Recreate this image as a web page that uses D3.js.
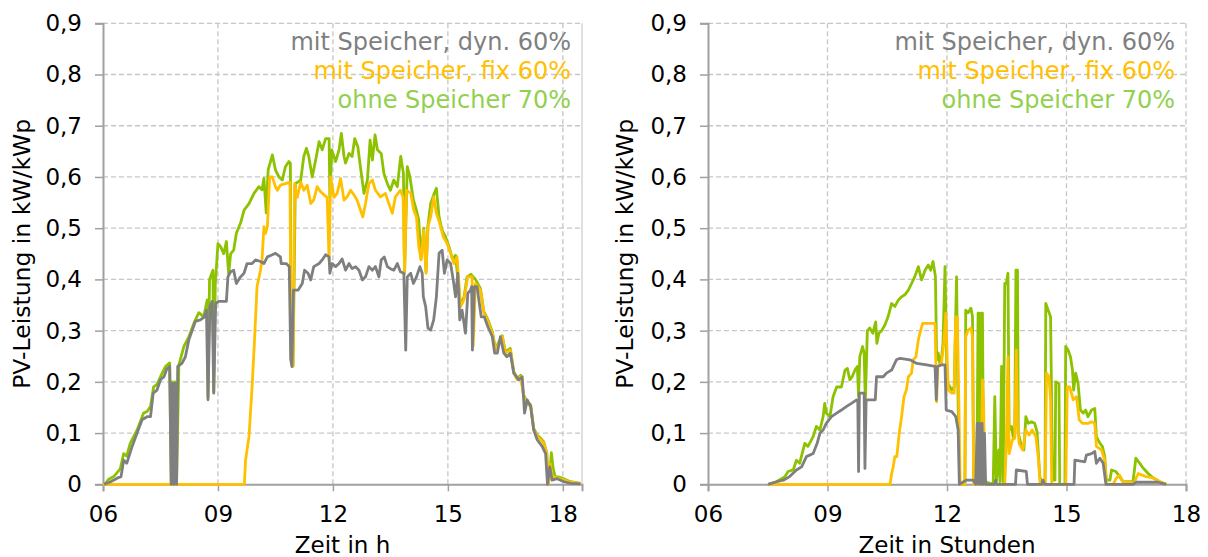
<!DOCTYPE html>
<html><head><meta charset="utf-8">
<script src="https://cdn.jsdelivr.net/npm/d3@7"></script>
<style>body{margin:0;background:#fff}svg{display:block}text{font-family:"DejaVu Sans",Verdana,sans-serif}</style>
</head><body>
<svg id="c" width="1208" height="557"></svg>
<script>
// ---------- data ----------
const xTicks = [6, 9, 12, 15, 18];
const yTicks = [0, 0.1, 0.2, 0.3, 0.4, 0.5, 0.6, 0.7, 0.8, 0.9];
const seriesNames = ["mit Speicher, dyn. 60%", "mit Speicher, fix 60%", "ohne Speicher 70%"];
const axisTitlesX = ["Zeit in h", "Zeit in Stunden"];
const axisTitleY = "PV-Leistung in kW/kWp";

const leftGrey = [[6.03,0],[6.2,0.005],[6.37,0.012],[6.47,0.015],[6.54,0.047],[6.62,0.041],[6.76,0.074],[6.89,0.1],[7.02,0.126],[7.15,0.132],[7.24,0.132],[7.31,0.178],[7.41,0.184],[7.5,0.204],[7.59,0.21],[7.67,0.226],[7.74,0.23],[7.78,0],[7.81,0.197],[7.85,0],[7.88,0.197],[7.92,0],[7.95,0.23],[8.06,0.236],[8.15,0.249],[8.24,0.282],[8.33,0.301],[8.41,0.318],[8.54,0.321],[8.65,0.327],[8.7,0.34],[8.74,0.165],[8.79,0.347],[8.85,0.357],[8.89,0.178],[8.94,0.353],[9.02,0.357],[9.15,0.357],[9.22,0.357],[9.26,0.405],[9.33,0.415],[9.41,0.418],[9.48,0.392],[9.59,0.405],[9.68,0.412],[9.76,0.431],[9.89,0.431],[9.98,0.438],[10.11,0.435],[10.2,0.431],[10.29,0.444],[10.42,0.448],[10.5,0.451],[10.63,0.444],[10.65,0.431],[10.78,0.431],[10.86,0.425],[10.9,0.243],[10.93,0.23],[10.97,0.379],[11.09,0.379],[11.2,0.392],[11.26,0.418],[11.35,0.412],[11.42,0.399],[11.5,0.425],[11.64,0.431],[11.72,0.438],[11.81,0.448],[11.9,0.444],[11.92,0.412],[11.98,0.431],[12.07,0.425],[12.16,0.431],[12.24,0.44],[12.33,0.418],[12.42,0.431],[12.5,0.421],[12.59,0.425],[12.68,0.418],[12.77,0.399],[12.85,0.405],[12.94,0.425],[13.03,0.418],[13.11,0.425],[13.2,0.405],[13.26,0.438],[13.34,0.444],[13.42,0.425],[13.5,0.421],[13.59,0.418],[13.68,0.431],[13.76,0.415],[13.85,0.412],[13.9,0.262],[13.94,0.405],[14.03,0.412],[14.1,0.392],[14.18,0.405],[14.27,0.425],[14.33,0.412],[14.36,0.366],[14.42,0.347],[14.48,0.305],[14.55,0.301],[14.63,0.321],[14.7,0.366],[14.77,0.451],[14.85,0.457],[14.91,0.412],[14.98,0.438],[15.07,0.431],[15.14,0.399],[15.2,0.366],[15.26,0.412],[15.31,0.321],[15.37,0.34],[15.46,0.295],[15.52,0.373],[15.59,0.379],[15.62,0.386],[15.64,0.262],[15.69,0.386],[15.76,0.386],[15.87,0.327],[15.95,0.327],[16.04,0.308],[16.16,0.288],[16.22,0.256],[16.29,0.256],[16.37,0.288],[16.46,0.256],[16.54,0.249],[16.63,0.256],[16.72,0.217],[16.85,0.204],[16.94,0.21],[17.0,0.139],[17.07,0.165],[17.16,0.152],[17.24,0.106],[17.33,0.087],[17.46,0.074],[17.55,0.06],[17.6,0],[17.66,0.034],[17.72,0.008],[17.85,0.011],[18.03,0.005],[18.2,0.002],[18.46,0.001]];

const leftOrange = [[6.0,0],[9.69,0],[9.72,0.047],[9.81,0.093],[9.89,0.19],[9.95,0.275],[10.02,0.386],[10.11,0.418],[10.15,0.438],[10.2,0.503],[10.24,0.49],[10.29,0.503],[10.35,0.6],[10.42,0.6],[10.5,0.581],[10.55,0.574],[10.63,0.584],[10.76,0.587],[10.88,0.59],[10.91,0.243],[10.96,0.23],[11.0,0.587],[11.07,0.56],[11.16,0.59],[11.24,0.574],[11.33,0.584],[11.42,0.548],[11.5,0.555],[11.59,0.581],[11.68,0.571],[11.77,0.565],[11.85,0.56],[11.9,0.438],[11.94,0.6],[12.03,0.56],[12.11,0.568],[12.2,0.597],[12.29,0.555],[12.37,0.561],[12.46,0.574],[12.55,0.565],[12.63,0.555],[12.72,0.535],[12.78,0.522],[12.85,0.548],[12.94,0.587],[13.03,0.594],[13.11,0.574],[13.24,0.561],[13.37,0.568],[13.46,0.548],[13.55,0.529],[13.63,0.561],[13.76,0.574],[13.83,0.561],[13.87,0.412],[13.92,0.574],[14.03,0.568],[14.11,0.535],[14.18,0.522],[14.24,0.464],[14.3,0.438],[14.37,0.496],[14.43,0.412],[14.48,0.503],[14.55,0.522],[14.63,0.561],[14.7,0.529],[14.79,0.509],[14.88,0.483],[14.98,0.47],[15.07,0.451],[15.16,0.431],[15.24,0.444],[15.33,0.347],[15.42,0.36],[15.52,0.405],[15.63,0.405],[15.66,0.27],[15.72,0.392],[15.85,0.379],[15.94,0.334],[16.03,0.321],[16.16,0.295],[16.24,0.262],[16.33,0.275],[16.42,0.288],[16.5,0.256],[16.63,0.262],[16.72,0.217],[16.81,0.204],[16.9,0.21],[16.98,0.171],[17.07,0.158],[17.16,0.152],[17.24,0.106],[17.33,0.093],[17.42,0.087],[17.5,0.08],[17.58,0.06],[17.62,0],[17.67,0.04],[17.72,0.015],[17.85,0.012],[18.03,0.008],[18.2,0.004],[18.46,0.002]];

const leftGreen = [[6.05,0],[6.15,0.01],[6.28,0.015],[6.45,0.03],[6.54,0.06],[6.62,0.055],[6.71,0.08],[6.89,0.106],[7.06,0.139],[7.15,0.142],[7.24,0.152],[7.32,0.19],[7.41,0.195],[7.5,0.21],[7.63,0.23],[7.74,0.237],[7.78,0],[7.81,0.2],[7.85,0],[7.88,0.2],[7.92,0],[7.98,0.233],[8.11,0.269],[8.24,0.288],[8.37,0.314],[8.5,0.335],[8.63,0.327],[8.72,0.36],[8.74,0.17],[8.78,0.4],[8.87,0.418],[8.89,0.18],[8.93,0.39],[9.0,0.47],[9.07,0.464],[9.15,0.45],[9.22,0.474],[9.28,0.41],[9.33,0.45],[9.41,0.457],[9.48,0.49],[9.59,0.51],[9.68,0.535],[9.81,0.548],[9.94,0.568],[10.07,0.581],[10.15,0.575],[10.2,0.597],[10.26,0.53],[10.31,0.614],[10.42,0.643],[10.5,0.614],[10.59,0.6],[10.68,0.594],[10.76,0.62],[10.85,0.63],[10.89,0.627],[10.91,0.245],[10.96,0.232],[11.02,0.587],[11.16,0.594],[11.24,0.64],[11.31,0.656],[11.37,0.64],[11.46,0.6],[11.55,0.633],[11.64,0.669],[11.72,0.653],[11.81,0.675],[11.9,0.675],[11.92,0.56],[11.97,0.653],[12.07,0.63],[12.16,0.653],[12.22,0.685],[12.29,0.64],[12.33,0.627],[12.42,0.646],[12.5,0.64],[12.57,0.675],[12.65,0.659],[12.74,0.607],[12.81,0.568],[12.9,0.594],[12.97,0.672],[13.03,0.633],[13.1,0.682],[13.16,0.653],[13.26,0.646],[13.33,0.607],[13.42,0.587],[13.5,0.574],[13.59,0.594],[13.68,0.581],[13.77,0.64],[13.84,0.607],[13.87,0.412],[13.94,0.62],[14.01,0.6],[14.1,0.555],[14.18,0.535],[14.24,0.516],[14.3,0.44],[14.37,0.5],[14.43,0.415],[14.48,0.505],[14.55,0.548],[14.63,0.565],[14.7,0.578],[14.77,0.522],[14.85,0.496],[14.94,0.483],[15.03,0.464],[15.12,0.44],[15.2,0.447],[15.33,0.35],[15.42,0.365],[15.5,0.405],[15.6,0.41],[15.72,0.4],[15.85,0.382],[15.94,0.337],[16.03,0.324],[16.16,0.298],[16.24,0.265],[16.33,0.278],[16.42,0.29],[16.5,0.259],[16.63,0.265],[16.72,0.22],[16.81,0.207],[16.9,0.213],[16.98,0.174],[17.07,0.161],[17.16,0.155],[17.24,0.109],[17.33,0.096],[17.42,0.09],[17.5,0.083],[17.58,0.062],[17.62,0],[17.66,0.02],[17.7,0.062],[17.75,0.03],[17.8,0.015],[17.9,0.014],[18.05,0.01],[18.2,0.005],[18.46,0.002]];

const rightGrey = [[7.51,0],[7.72,0.005],[7.89,0.008],[8.05,0.015],[8.22,0.028],[8.35,0.034],[8.47,0.054],[8.64,0.06],[8.74,0.08],[8.81,0.1],[8.89,0.106],[8.97,0.119],[9.1,0.132],[9.23,0.139],[9.35,0.145],[9.48,0.152],[9.6,0.158],[9.73,0.165],[9.76,0.165],[9.78,0.025],[9.8,0.178],[9.92,0.178],[9.94,0.031],[9.97,0.165],[10.2,0.165],[10.23,0.21],[10.4,0.21],[10.48,0.217],[10.61,0.223],[10.73,0.243],[10.82,0.246],[11.07,0.243],[11.24,0.236],[11.49,0.233],[11.7,0.23],[11.73,0.165],[11.76,0.23],[11.86,0.233],[11.95,0.233],[11.98,0.145],[12.12,0.142],[12.22,0.132],[12.28,0.106],[12.31,0],[12.48,0.008],[12.66,0.008],[12.72,0],[12.76,0.119],[12.79,0],[12.82,0.119],[12.85,0],[12.88,0.119],[12.91,0],[12.94,0.1],[12.97,0],[13.2,0],[13.22,0.008],[13.24,0],[13.72,0],[13.74,0.028],[13.99,0.025],[14.02,0],[14.38,0],[14.41,0.008],[14.45,0],[15.19,0],[15.21,0.047],[15.46,0.044],[15.5,0.057],[15.63,0.06],[15.71,0.064],[15.75,0.041],[15.84,0.051],[15.92,0.041],[15.99,0],[16.67,0],[16.75,0.004],[17.3,0.004],[17.5,0]];

const rightOrange = [[7.51,0],[10.57,0],[10.61,0.021],[10.65,0.034],[10.69,0.054],[10.74,0.054],[10.8,0.1],[10.86,0.132],[10.92,0.171],[10.98,0.184],[11.03,0.21],[11.11,0.217],[11.15,0.243],[11.22,0.249],[11.28,0.282],[11.32,0.295],[11.39,0.314],[11.7,0.314],[11.74,0.161],[11.77,0.23],[11.86,0.236],[11.92,0.275],[11.97,0.334],[12.03,0.184],[12.12,0.178],[12.18,0.178],[12.22,0.327],[12.26,0.327],[12.3,0.15],[12.33,0],[12.45,0],[12.47,0.288],[12.53,0.301],[12.6,0.305],[12.64,0.288],[12.67,0],[12.86,0],[12.89,0.204],[12.92,0.152],[12.95,0],[13.45,0],[13.49,0.08],[13.53,0.249],[13.56,0.06],[13.64,0.087],[13.7,0.09],[13.74,0.262],[13.77,0.119],[13.81,0.08],[13.9,0.067],[13.98,0.106],[14.06,0.096],[14.14,0.106],[14.23,0.093],[14.29,0.054],[14.34,0],[14.46,0],[14.5,0.217],[14.56,0.21],[14.6,0.165],[14.63,0],[14.98,0],[15.02,0.19],[15.08,0.19],[15.17,0.165],[15.25,0.171],[15.32,0.126],[15.4,0.119],[15.54,0.119],[15.63,0.122],[15.71,0.119],[15.75,0.074],[15.88,0.067],[15.96,0.047],[16.0,0],[16.17,0],[16.25,0.012],[16.33,0.018],[16.42,0.005],[16.7,0.003],[16.8,0.021],[16.9,0.018],[17.0,0.015],[17.2,0.012],[17.35,0.005],[17.51,0]];

const rightGreen = [[7.51,0],[7.72,0.005],[7.93,0.015],[8.01,0.025],[8.14,0.028],[8.22,0.047],[8.3,0.041],[8.43,0.08],[8.51,0.074],[8.64,0.093],[8.72,0.113],[8.81,0.106],[8.89,0.132],[8.93,0.158],[8.97,0.139],[9.06,0.132],[9.14,0.171],[9.23,0.19],[9.35,0.19],[9.44,0.223],[9.5,0.226],[9.56,0.204],[9.62,0.21],[9.69,0.223],[9.75,0.23],[9.78,0.171],[9.81,0.249],[9.88,0.269],[9.92,0.256],[9.95,0.16],[10.0,0.3],[10.06,0.305],[10.14,0.295],[10.21,0.317],[10.24,0.275],[10.29,0.295],[10.36,0.3],[10.44,0.311],[10.52,0.327],[10.61,0.353],[10.69,0.347],[10.78,0.36],[10.86,0.366],[10.94,0.37],[11.03,0.379],[11.11,0.392],[11.19,0.405],[11.28,0.425],[11.36,0.399],[11.45,0.418],[11.53,0.428],[11.59,0.418],[11.65,0.435],[11.71,0.405],[11.74,0.243],[11.78,0.256],[11.82,0.236],[11.86,0.245],[11.9,0.275],[11.95,0.425],[12.0,0.2],[12.12,0.184],[12.18,0.19],[12.24,0.405],[12.27,0.197],[12.32,0],[12.45,0],[12.47,0.34],[12.53,0.335],[12.6,0.344],[12.64,0.327],[12.67,0.008],[12.75,0.008],[12.78,0.334],[12.8,0.334],[12.82,0.03],[12.86,0.334],[12.89,0.334],[12.92,0.008],[13.0,0.004],[13.16,0],[13.2,0.171],[13.24,0.005],[13.3,0.067],[13.33,0.005],[13.37,0.23],[13.41,0.005],[13.45,0.392],[13.49,0.392],[13.53,0.412],[13.56,0.106],[13.62,0.113],[13.66,0.093],[13.7,0.093],[13.73,0.418],[13.77,0.418],[13.79,0.1],[13.87,0.074],[13.93,0.067],[13.98,0.132],[14.04,0.119],[14.12,0.122],[14.2,0.119],[14.26,0.103],[14.33,0.015],[14.4,0],[14.46,0],[14.48,0.353],[14.54,0.34],[14.6,0.327],[14.65,0.008],[14.71,0.008],[14.73,0.2],[14.81,0.197],[14.83,0],[14.96,0],[14.98,0.269],[15.04,0.262],[15.1,0.249],[15.15,0.223],[15.18,0.184],[15.23,0.217],[15.29,0.197],[15.35,0.145],[15.42,0.139],[15.48,0.145],[15.54,0.132],[15.63,0.145],[15.71,0.148],[15.75,0.093],[15.84,0.08],[15.9,0.074],[15.96,0.054],[16.0,0.008],[16.09,0.008],[16.13,0.028],[16.24,0.025],[16.33,0.015],[16.42,0.005],[16.67,0.005],[16.74,0.051],[16.84,0.041],[16.9,0.034],[16.97,0.028],[17.05,0.021],[17.18,0.012],[17.34,0.005],[17.51,0]];

// ---------- styles ----------
const lineColors = {grey: "#7F7F7F", orange: "#FFC000", green: "#8CC200"};
const legendColors = ["#7F7F7F", "#FFC000", "#92D050"];

const panels = [
  {x0: 103, x1: 582, xMax: 18.5, title: axisTitlesX[0], titleX: 30, green: leftGreen, orange: leftOrange, grey: leftGrey, solidRight: true},
  {x0: 708, x1: 1186, xMax: 18, title: axisTitlesX[1], titleX: 633, green: rightGreen, orange: rightOrange, grey: rightGrey, solidRight: false}
];
const yTop = 23.3, yBot = 484.3;

const svg = d3.select("#c");

panels.forEach(p => {
  const x = d3.scaleLinear().domain([6, p.xMax]).range([p.x0, p.x1]);
  const y = d3.scaleLinear().domain([0, 0.9]).range([yBot, yTop]);
  const g = svg.append("g");

  // horizontal grid
  g.selectAll(".hg").data(yTicks.filter(v => v > 0)).enter().append("line")
    .attr("x1", p.x0).attr("x2", p.x1).attr("y1", d => y(d)).attr("y2", d => y(d))
    .attr("stroke", "#C6C6C6").attr("stroke-width", 1.3).attr("stroke-dasharray", "5,3");
  // vertical grid
  g.selectAll(".vg").data(xTicks.filter(v => v > 6)).enter().append("line")
    .attr("x1", d => x(d)).attr("x2", d => x(d)).attr("y1", yTop).attr("y2", yBot)
    .attr("stroke", "#C6C6C6").attr("stroke-width", 1.3).attr("stroke-dasharray", "5,3");
  if (p.solidRight) {
    g.append("line").attr("x1", p.x1).attr("x2", p.x1).attr("y1", yTop).attr("y2", yBot)
      .attr("stroke", "#D0D0D0").attr("stroke-width", 1.3);
  }

  // axes
  const yAxis = d3.axisLeft(y).tickValues(yTicks).tickSize(8).tickPadding(13)
    .tickFormat(d => d === 0 ? "0" : d3.format(".1f")(d).replace(".", ","));
  const ya = g.append("g").attr("transform", `translate(${p.x0},0)`).call(yAxis);
  const xAxis = d3.axisBottom(x).tickValues(xTicks).tickSize(7).tickPadding(14)
    .tickFormat(d => d3.format("02d")(d));
  const xa = g.append("g").attr("transform", `translate(0,${yBot})`).call(xAxis);
  [ya, xa].forEach(a => {
    a.select(".domain").attr("stroke", "#A0A0A0").attr("stroke-width", 2);
    a.selectAll(".tick line").attr("stroke", "#A0A0A0").attr("stroke-width", 1.5);
    a.selectAll("text").attr("fill", "#000").style("font-size", "23px").style("font-family", "DejaVu Sans");
  });

  // lines
  const line = d3.line().x(d => x(d[0])).y(d => y(d[1]));
  [["green", p.green], ["orange", p.orange], ["grey", p.grey]].forEach(([k, data]) => {
    g.append("path").datum(data).attr("d", line).attr("fill", "none")
      .attr("stroke", lineColors[k]).attr("stroke-width", 2.8).attr("stroke-linejoin", "round");
  });

  // legend
  seriesNames.forEach((s, i) => {
    g.append("text").attr("x", p.x1 - 11).attr("y", 50 + i * 29).attr("text-anchor", "end")
      .attr("fill", legendColors[i]).style("font-size", "24px").text(s);
  });

  // axis titles
  g.append("text").attr("x", (p.x0 + p.x1) / 2).attr("y", 553).attr("text-anchor", "middle")
    .attr("fill", "#000").style("font-size", "23px").text(p.title);
  g.append("text").attr("transform", `translate(${p.titleX},${(yTop + yBot) / 2}) rotate(-90)`)
    .attr("text-anchor", "middle").attr("fill", "#000").style("font-size", "23.5px").text(axisTitleY);
});
</script>
</body></html>
